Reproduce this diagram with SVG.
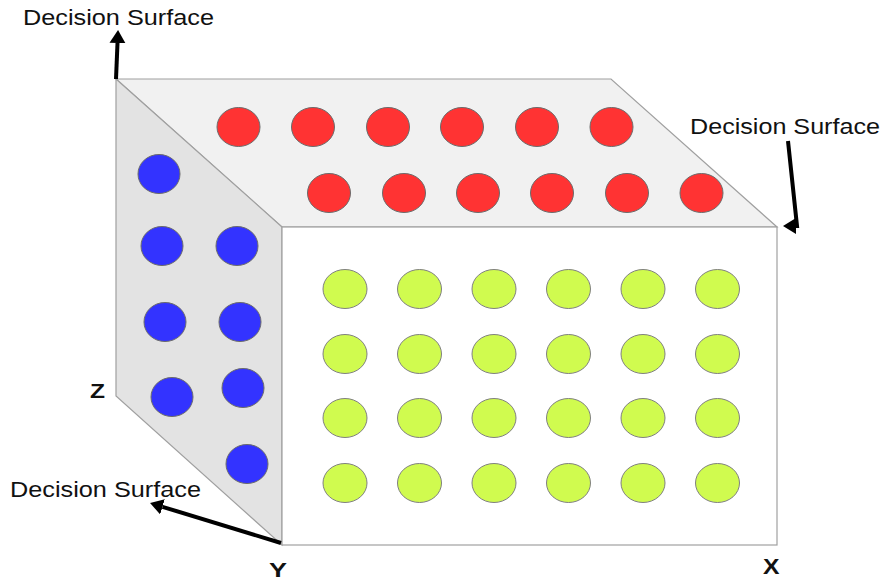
<svg xmlns="http://www.w3.org/2000/svg" width="882" height="581" viewBox="0 0 882 581">
  <style>
    .face { stroke: #a0a0a0; stroke-width: 1.2; }
    .red { fill: #ff3333; stroke: #6b6b6b; stroke-width: 1; }
    .blue { fill: #3333ff; stroke: #6b6b6b; stroke-width: 1; }
    .green { fill: #d0fb4f; stroke: #808080; stroke-width: 1; }
    .label { font-family: "Liberation Sans", Arial, sans-serif; font-size: 22px; fill: #111; }
    .axis { font-family: "Liberation Sans", Arial, sans-serif; font-weight: bold; fill: #111; }
    .arrow { fill: none; stroke: #000; stroke-width: 4; stroke-linejoin: miter; }
  </style>
  <defs>
    <marker id="head" markerUnits="userSpaceOnUse" markerWidth="14" markerHeight="16" refX="0" refY="8" orient="auto">
      <path d="M0,0 L13,8 L0,16 z" fill="#000"/>
    </marker>
  </defs>

  <rect width="882" height="581" fill="#ffffff"/>

  <!-- box faces -->
  <g id="top-face">
    <polygon class="face" points="116,79 611,79 777,227 282,227" fill="#f1f1f1"/>
  </g>
  <g id="side-face">
    <polygon class="face" points="116,79 282,227 282,545 116,396" fill="#e3e3e3"/>
  </g>
  <g id="front-face">
    <rect class="face" x="282" y="227" width="495" height="318" fill="#ffffff"/>
  </g>

  <!-- red points on the top face -->
  <g id="red-points">
    <ellipse class="red" cx="238.5" cy="127" rx="21.5" ry="19.5"/>
    <ellipse class="red" cx="313" cy="127" rx="21.5" ry="19.5"/>
    <ellipse class="red" cx="388" cy="127" rx="21.5" ry="19.5"/>
    <ellipse class="red" cx="462" cy="127" rx="21.5" ry="19.5"/>
    <ellipse class="red" cx="537" cy="127" rx="21.5" ry="19.5"/>
    <ellipse class="red" cx="611.5" cy="127" rx="21.5" ry="19.5"/>
    <ellipse class="red" cx="329" cy="193" rx="21.5" ry="19.5"/>
    <ellipse class="red" cx="404" cy="193" rx="21.5" ry="19.5"/>
    <ellipse class="red" cx="478" cy="193" rx="21.5" ry="19.5"/>
    <ellipse class="red" cx="552" cy="193" rx="21.5" ry="19.5"/>
    <ellipse class="red" cx="627" cy="193" rx="21.5" ry="19.5"/>
    <ellipse class="red" cx="701.5" cy="193" rx="21.5" ry="19.5"/>
  </g>

  <!-- blue points on the side face -->
  <g id="blue-points">
    <ellipse class="blue" cx="159" cy="174" rx="21" ry="19.5"/>
    <ellipse class="blue" cx="162" cy="246" rx="21" ry="19.5"/>
    <ellipse class="blue" cx="237" cy="246" rx="21" ry="19.5"/>
    <ellipse class="blue" cx="165" cy="322" rx="21" ry="19.5"/>
    <ellipse class="blue" cx="240" cy="322" rx="21" ry="19.5"/>
    <ellipse class="blue" cx="172" cy="397" rx="21" ry="19.5"/>
    <ellipse class="blue" cx="243" cy="388" rx="21" ry="19.5"/>
    <ellipse class="blue" cx="247" cy="464" rx="21" ry="19.5"/>
  </g>

  <!-- green points on the front face -->
  <g id="green-points">
    <ellipse class="green" cx="345" cy="289" rx="22" ry="19.5"/>
    <ellipse class="green" cx="419.5" cy="289" rx="22" ry="19.5"/>
    <ellipse class="green" cx="494" cy="289" rx="22" ry="19.5"/>
    <ellipse class="green" cx="568.5" cy="289" rx="22" ry="19.5"/>
    <ellipse class="green" cx="643" cy="289" rx="22" ry="19.5"/>
    <ellipse class="green" cx="717.5" cy="289" rx="22" ry="19.5"/>
    <ellipse class="green" cx="345" cy="354" rx="22" ry="19.5"/>
    <ellipse class="green" cx="419.5" cy="354" rx="22" ry="19.5"/>
    <ellipse class="green" cx="494" cy="354" rx="22" ry="19.5"/>
    <ellipse class="green" cx="568.5" cy="354" rx="22" ry="19.5"/>
    <ellipse class="green" cx="643" cy="354" rx="22" ry="19.5"/>
    <ellipse class="green" cx="717.5" cy="354" rx="22" ry="19.5"/>
    <ellipse class="green" cx="345" cy="418" rx="22" ry="19.5"/>
    <ellipse class="green" cx="419.5" cy="418" rx="22" ry="19.5"/>
    <ellipse class="green" cx="494" cy="418" rx="22" ry="19.5"/>
    <ellipse class="green" cx="568.5" cy="418" rx="22" ry="19.5"/>
    <ellipse class="green" cx="643" cy="418" rx="22" ry="19.5"/>
    <ellipse class="green" cx="717.5" cy="418" rx="22" ry="19.5"/>
    <ellipse class="green" cx="345" cy="483" rx="22" ry="19.5"/>
    <ellipse class="green" cx="419.5" cy="483" rx="22" ry="19.5"/>
    <ellipse class="green" cx="494" cy="483" rx="22" ry="19.5"/>
    <ellipse class="green" cx="568.5" cy="483" rx="22" ry="19.5"/>
    <ellipse class="green" cx="643" cy="483" rx="22" ry="19.5"/>
    <ellipse class="green" cx="717.5" cy="483" rx="22" ry="19.5"/>
  </g>

  <!-- arrows pointing at the decision surfaces -->
  <g id="connectors">
    <path class="arrow" d="M116,79 L117.5,43" marker-end="url(#head)"/>
    <path class="arrow" d="M788,141 L797,226 L796,226" marker-end="url(#head)"/>
    <path class="arrow" d="M281,543 L162.5,506.8" marker-end="url(#head)"/>
  </g>

  <!-- labels -->
  <g id="label-top">
    <text class="label" x="23" y="25" textLength="191" lengthAdjust="spacingAndGlyphs">Decision Surface</text>
  </g>
  <g id="label-right">
    <text class="label" x="690" y="134" textLength="190" lengthAdjust="spacingAndGlyphs">Decision Surface</text>
  </g>
  <g id="label-bottom">
    <text class="label" x="10" y="497" textLength="191" lengthAdjust="spacingAndGlyphs">Decision Surface</text>
  </g>
  <g id="axis-z">
    <text class="axis" x="90" y="398" font-size="20" textLength="15" lengthAdjust="spacingAndGlyphs">Z</text>
  </g>
  <g id="axis-y">
    <text class="axis" x="269" y="577" font-size="21" textLength="18" lengthAdjust="spacingAndGlyphs">Y</text>
  </g>
  <g id="axis-x">
    <text class="axis" x="763" y="574" font-size="22" textLength="16.5" lengthAdjust="spacingAndGlyphs">X</text>
  </g>
</svg>
